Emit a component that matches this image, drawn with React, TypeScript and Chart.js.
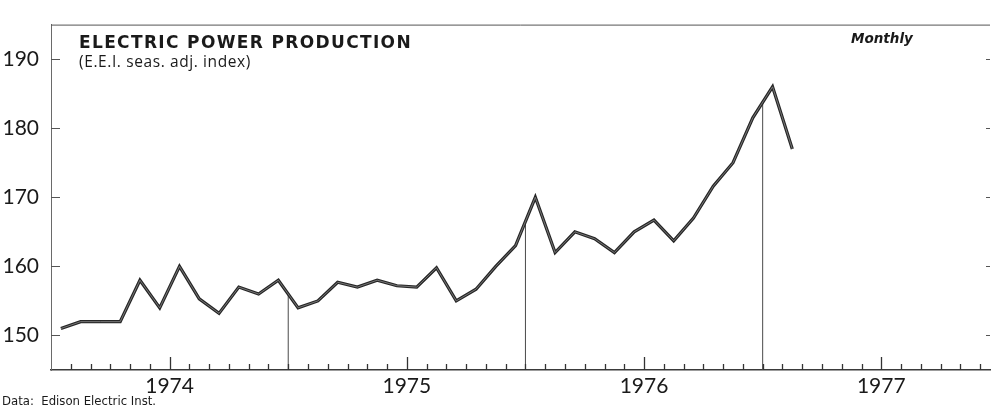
import React, { useEffect, useRef } from "react";
import { Chart, registerables } from "chart.js";

Chart.register(...registerables);

// ---- data (E.E.I. seasonally adjusted index, monthly) ----
const years = ["1974", "1975", "1976", "1977"];
const values1974 = [151, 152, 152, 152, 158, 154, 160, 155.3, 153.2, 157, 156, 158];
const values1975 = [154, 155, 157.7, 157, 158, 157.2, 157, 159.8, 155, 156.7, 160, 163];
const values1976 = [170, 162, 165, 164, 162, 165, 166.7, 163.7, 167, 171.6, 175, 181.5];
const values1977 = [186, 177];
const power = [...values1974, ...values1975, ...values1976, ...values1977];
const yTicks = [150, 160, 170, 180, 190];
const yMin = 145;
const yMax = 195;
const xMax = 47.5; // months shown (Jan 1974 .. mid Dec 1977)
const yearStarts = [12, 24, 36]; // month index where a new year begins (drop lines)

const FONT_NUM = "Lato, 'Open Sans', sans-serif";

const inwardTicks = {
  id: "inwardTicks",
  afterDatasetsDraw(chart: any) {
    const { ctx, chartArea, scales } = chart;
    const { left, right, top, bottom } = chartArea;
    const x = scales.x;
    const y = scales.y;
    ctx.save();
    // top border
    ctx.strokeStyle = "#555";
    ctx.lineWidth = 1;
    ctx.beginPath();
    ctx.moveTo(left, top + 0.5);
    ctx.lineTo(right, top + 0.5);
    ctx.stroke();
    // month ticks along the bottom axis
    ctx.strokeStyle = "#333";
    ctx.lineWidth = 1.3;
    for (let m = 1; m <= Math.floor(xMax); m++) {
      const px = Math.round(x.getPixelForValue(m)) + 0.5;
      const len = m % 12 === 6 ? 13 : 6;
      ctx.beginPath();
      ctx.moveTo(px, bottom);
      ctx.lineTo(px, bottom - len);
      ctx.stroke();
    }
    // value ticks on left and right
    ctx.strokeStyle = "#555";
    ctx.lineWidth = 1;
    yTicks.forEach((v) => {
      const py = Math.round(y.getPixelForValue(v)) + 0.5;
      ctx.beginPath();
      ctx.moveTo(left, py);
      ctx.lineTo(left + 9, py);
      ctx.moveTo(right - 4, py);
      ctx.lineTo(right, py);
      ctx.stroke();
    });
    ctx.restore();
  },
};

export default function App() {
  const ref = useRef<HTMLCanvasElement>(null);

  useEffect(() => {
    if (!ref.current) return;
    const points = power.map((v, i) => ({ x: i + 0.5, y: v }));
    const dropLines = yearStarts.map((m) => ({
      type: "line" as const,
      data: [
        { x: m, y: yMin },
        { x: m, y: (power[m - 1] + power[m]) / 2 },
      ],
      borderColor: "#4a4a4a",
      borderWidth: 1,
      pointRadius: 0,
      order: 3,
    }));

    const chart = new Chart(ref.current, {
      type: "line",
      data: {
        datasets: [
          {
            data: points,
            borderColor: "#262626",
            borderWidth: 3.2,
            pointRadius: 0,
            tension: 0,
            borderJoinStyle: "miter",
            order: 2,
          },
          {
            data: points,
            borderColor: "#8c8c8c",
            borderWidth: 0.8,
            pointRadius: 0,
            tension: 0,
            order: 1,
          },
          ...dropLines,
        ] as any,
      },
      options: {
        animation: false,
        responsive: false,
        devicePixelRatio: 1,
        layout: { padding: { left: 0, right: 2, top: 9, bottom: 0 } },
        plugins: {
          legend: { display: false },
          tooltip: { enabled: false },
          title: { display: false },
        },
        scales: {
          x: {
            type: "linear",
            min: 0,
            max: xMax,
            grid: { display: false, drawTicks: false },
            border: { display: true, color: "#3a3a3a", width: 1.6 },
            afterBuildTicks: (scale: any) => {
              scale.ticks = years.map((_, i) => ({ value: i * 12 + 6 }));
            },
            afterFit: (scale: any) => {
              scale.height = 42;
            },
            ticks: {
              autoSkip: false,
              maxRotation: 0,
              padding: 4,
              color: "#1a1a1a",
              font: { family: FONT_NUM, size: 21 },
              callback: (v: any) => years[Math.round((Number(v) - 6) / 12)] ?? "",
            },
          },
          y: {
            type: "linear",
            min: yMin,
            max: yMax,
            grid: { display: false, drawTicks: false },
            border: { display: true, color: "#6a6a6a", width: 1 },
            afterBuildTicks: (scale: any) => {
              scale.ticks = yTicks.map((v) => ({ value: v }));
            },
            afterFit: (scale: any) => {
              scale.width = 51;
            },
            ticks: {
              padding: 12,
              color: "#1a1a1a",
              font: { family: FONT_NUM, size: 21 },
              callback: (v: any) => String(v),
            },
          },
        },
      },
      plugins: [inwardTicks],
    });
    return () => chart.destroy();
  }, []);

  const txt: React.CSSProperties = {
    position: "absolute",
    lineHeight: 1,
    whiteSpace: "nowrap",
    color: "#1a1a1a",
    margin: 0,
  };

  return (
    <div
      style={{
        position: "fixed",
        left: 0,
        top: 0,
        width: 992,
        height: 412,
        background: "#fff",
        overflow: "hidden",
      }}
    >
      <canvas ref={ref} width={992} height={412} style={{ display: "block" }} />
      <div
        style={{
          ...txt,
          left: 79,
          top: 34,
          fontFamily: "'DejaVu Sans', sans-serif",
          fontWeight: 700,
          fontSize: 17,
          letterSpacing: 1.35,
        }}
      >
        ELECTRIC POWER PRODUCTION
      </div>
      <div
        style={{
          ...txt,
          left: 79,
          top: 54,
          fontFamily: "'Open Sans', sans-serif",
          fontSize: 15.5,
          letterSpacing: 0.6,
        }}
      >
        (E.E.I. seas. adj. index)
      </div>
      <div
        style={{
          ...txt,
          left: 851,
          top: 32,
          fontFamily: "'DejaVu Sans', sans-serif",
          fontWeight: 700,
          fontStyle: "italic",
          fontSize: 13.5,
        }}
      >
        Monthly
      </div>
      <div
        style={{
          ...txt,
          left: 2,
          top: 394,
          fontFamily: "'Liberation Sans Narrow', 'DejaVu Sans Condensed', sans-serif",
          fontSize: 13,
        }}
      >
        Data:&nbsp;&nbsp;Edison Electric Inst.
      </div>
    </div>
  );
}
